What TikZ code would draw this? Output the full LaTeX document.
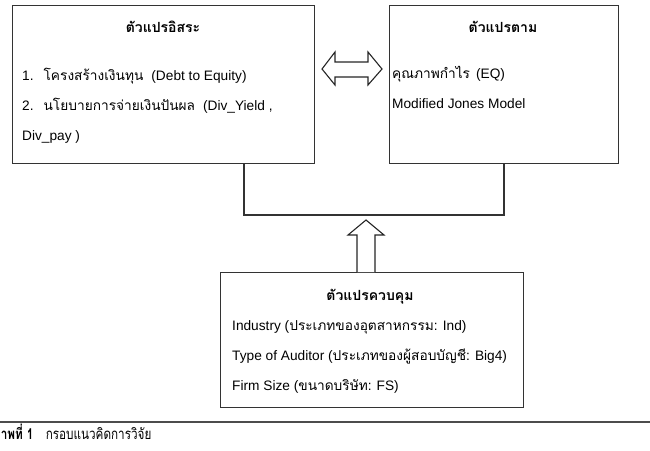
\documentclass[tikz,border=0pt]{standalone}
\usepackage{fontspec}
\setmainfont{Liberation Sans}
\newfontfamily\thai[Script=Thai]{Loma}
\begin{document}
\begin{tikzpicture}[x=1pt,y=-1pt,
  box/.style={draw=black!80,line width=1.3pt,inner sep=0pt,anchor=north west},
  txt/.style={anchor=base west,inner sep=0pt,font=\fontsize{13.7}{16}\selectfont},
  ttl/.style={anchor=base,inner sep=0pt,font=\fontsize{14}{16}\selectfont\thai\bfseries},
  fat/.style={draw=black!85,line width=1.1pt,fill=white,line join=miter}]
\useasboundingbox (0,0) rectangle (650,450);
% boxes
\node[box,minimum width=302pt,minimum height=158pt] (L) at (12,5) {};
\node[box,minimum width=229pt,minimum height=158pt] (R) at (389,5) {};
\node[box,minimum width=303pt,minimum height=135pt] (B) at (220,272) {};
% titles
\node[ttl] (Lt) at (163,32) {ตัวแปรอิสระ};
\node[ttl] (Rt) at (503,32) {ตัวแปรตาม};
\node[ttl] (Bt) at (370,300) {ตัวแปรควบคุม};
% left text
\node[txt] (L1) at (22,80) {1.\hspace{10pt}{\thai โครงสร้างเงินทุน}\hspace{8pt}(Debt to Equity)};
\node[txt] (L2) at (22,110) {2.\hspace{10pt}{\thai นโยบายการจ่ายเงินปันผล}\hspace{8pt}(Div\_Yield ,};
\node[txt] (L3) at (22,140) {Div\_pay )};
% right text
\node[txt] (R1) at (392,78) {{\thai คุณภาพกำไร}\hspace{6pt}(EQ)};
\node[txt] (R2) at (392,108) {Modified Jones Model};
% bottom text
\node[txt] (B1) at (232,330) {Industry ({\thai ประเภทของอุตสาหกรรม}: Ind)};
\node[txt] (B2) at (232,360) {Type of Auditor ({\thai ประเภทของผู้สอบบัญชี}: Big4)};
\node[txt] (B3) at (232,390) {Firm Size ({\thai ขนาดบริษัท}: FS)};
% bracket connector
\draw[draw=black!80,line width=1.1pt] (244,0 |- L.south) -- (244,215) -| (504,0 |- R.south);
% double arrow
\draw[fat] (322,69) -- (335,52) -- (335,62) -- (368,62) -- (368,52) -- (382,69)
  -- (368,85) -- (368,77) -- (335,77) -- (335,85) -- cycle;
% up arrow
\draw[fat] (357,0 |- B.north) -- (357,235) -- (348,235) -- (366,220) -- (384,235)
  -- (375,235) -- (375,0 |- B.north);
% caption
\draw[draw=black!70,line width=1.8pt] (0,422) -- (650,422);
\node[anchor=base west,inner sep=0pt,font=\fontsize{15}{17}\selectfont\thai,xscale=0.78,transform shape] (cap) at (-7,439)
  {{\bfseries ภาพที่ 1}\hspace{16pt}กรอบแนวคิดการวิจัย};
\end{tikzpicture}
\end{document}
